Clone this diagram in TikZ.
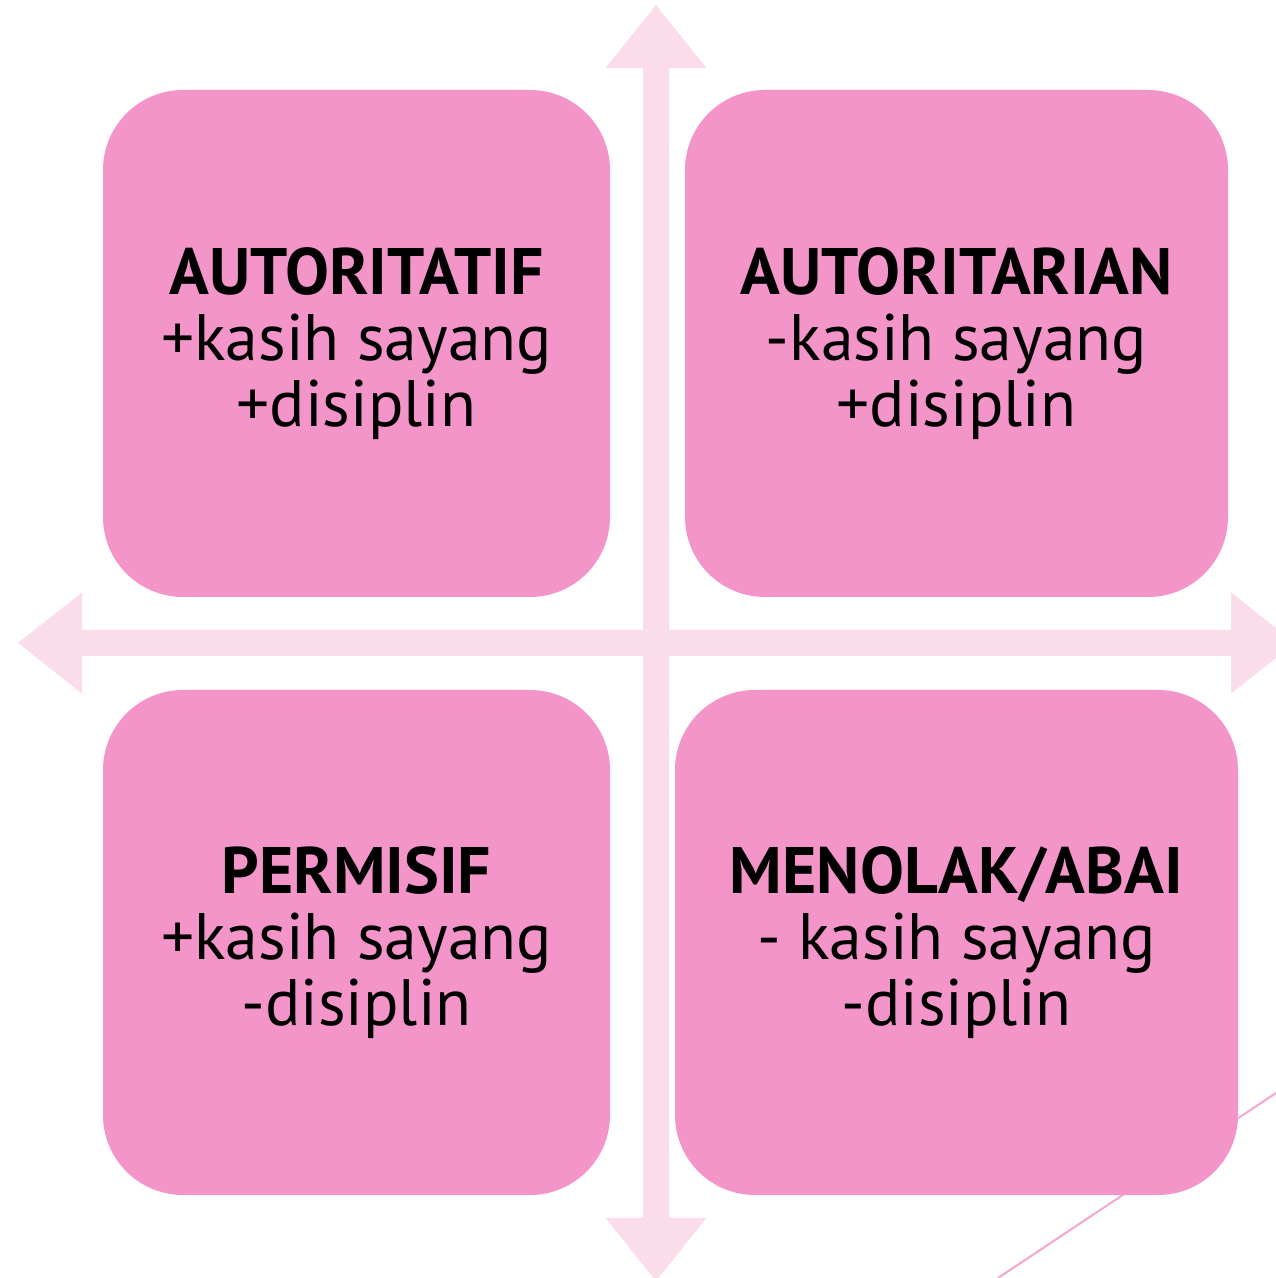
\documentclass[tikz,border=0pt]{standalone}
\usepackage{fontspec}
\setmainfont{PT Sans}
\definecolor{boxpink}{HTML}{F395C9}
\definecolor{arrowpink}{HTML}{FADCEB}
\definecolor{linepink}{HTML}{F4A6D3}
\tikzset{
  quadbox/.style={fill=boxpink, rounded corners=0.8cm, align=center, inner sep=0pt,
    font=\fontsize{18.7pt}{18.8pt}\selectfont},
  crossarrow/.style={fill=arrowpink, draw=none}
}
\begin{document}
\begin{tikzpicture}
    \clip (0, 0) rectangle (12.76, 12.78);
    \fill [white] (0, 0) rectangle (12.76, 12.78);

    \coordinate (C) at (6.56, 6.35);
    \coordinate (T) at (6.56, 12.73);
    \coordinate (Bt) at (6.56, -0.03);
    \coordinate (L) at (0.18, 6.35);
    \coordinate (R) at (12.95, 6.35);

    \coordinate (S1) at (9.98, 0);
    \coordinate (S2) at (12.76, 1.85);

    \draw [linepink, line width=0.2mm] (S1) to (S2);

    % vertical arrow
    \fill [crossarrow] (T) -- (7.065, 12.10) -- (6.69, 12.10) -- (6.69, 0.60)
      -- (7.065, 0.60) -- (Bt) -- (6.055, 0.60) -- (6.43, 0.60) -- (6.43, 12.10)
      -- (6.055, 12.10) -- cycle;
    % horizontal arrow
    \fill [crossarrow] (L) -- (0.82, 6.855) -- (0.82, 6.48) -- (12.31, 6.48)
      -- (12.31, 6.855) -- (R) -- (12.31, 5.845) -- (12.31, 6.22) -- (0.82, 6.22)
      -- (0.82, 5.845) -- cycle;

    \node [quadbox, minimum width=5.07cm, minimum height=5.07cm] (autoritatif) at (3.565, 9.345)
      {\textbf{AUTORITATIF}\\+kasih sayang\\+disiplin};
    \node [quadbox, minimum width=5.43cm, minimum height=5.07cm] (autoritarian) at (9.565, 9.345)
      {\textbf{AUTORITARIAN}\\-kasih sayang\\+disiplin};
    \node [quadbox, minimum width=5.07cm, minimum height=5.05cm] (permisif) at (3.565, 3.355)
      {\textbf{PERMISIF}\\+kasih sayang\\-disiplin};
    \node [quadbox, minimum width=5.63cm, minimum height=5.05cm] (abai) at (9.565, 3.355)
      {\textbf{MENOLAK/ABAI}\\- kasih sayang\\-disiplin};
  \end{tikzpicture}
\end{document}
